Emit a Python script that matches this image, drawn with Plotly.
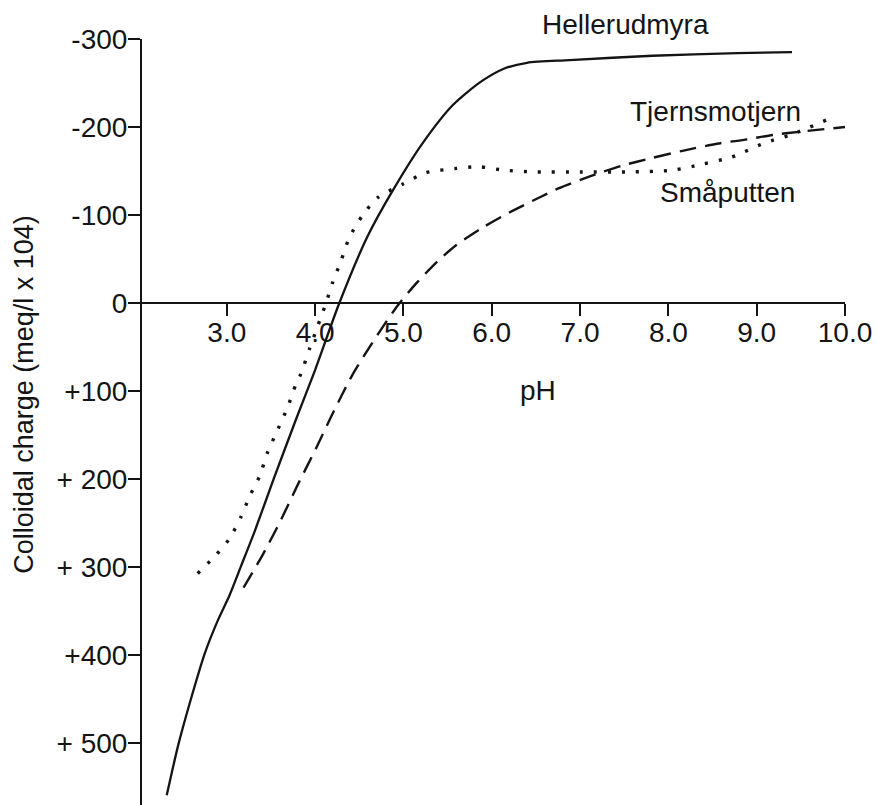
import plotly.graph_objects as go

# ---- data ----
hell_ph = [2.32, 2.45, 2.59, 2.75, 2.90, 3.03, 3.16, 3.32, 3.53, 3.78, 4.00, 4.27, 4.59, 4.88, 5.22, 5.56, 5.87, 6.13, 6.40, 6.88, 7.82, 8.78, 9.40]
hell_q  = [559, 502, 451, 398, 360, 332, 299, 258, 200, 133, 76, 1, -75, -128, -182, -225, -251, -266, -273, -276, -281, -284, -285]

smap_ph = [2.67, 2.84, 3.02, 3.16, 3.26, 3.37, 3.46, 3.58, 3.69, 3.78, 3.84, 3.94, 4.03, 4.12, 4.20, 4.29, 4.39, 4.54, 4.71, 4.99, 5.25, 5.60, 5.85, 6.14, 6.50, 7.00, 7.55, 8.05, 8.39, 8.72, 9.09, 9.41, 9.81]
smap_q  = [307, 290, 269, 243, 219, 197, 170, 143, 118, 93, 80, 51, 26, 1, -24, -47, -75, -100, -120, -135, -148, -153, -155, -151, -149, -149, -149, -151, -158, -166, -182, -192, -209]

tjer_ph = [3.19, 3.40, 3.60, 3.80, 4.01, 4.21, 4.42, 4.68, 4.94, 5.15, 5.38, 5.60, 5.90, 6.20, 6.54, 6.77, 7.11, 7.47, 7.82, 8.16, 8.55, 8.89, 9.18, 9.52, 10.0]
tjer_q  = [323, 287, 249, 207, 165, 123, 82, 40, 2, -23, -47, -66, -86, -103, -120, -131, -144, -156, -165, -173, -181, -186, -191, -195, -200]

x_ticks = [3.0, 4.0, 5.0, 6.0, 7.0, 8.0, 9.0, 10.0]
x_ticklabels = ["3.0", "4.0", "5.0", "6.0", "7.0", "8.0", "9.0", "10.0"]
y_ticks = [-300, -200, -100, 0, 100, 200, 300, 400, 500]
y_ticklabels = ["-300", "-200", "-100", "0", "+100", "+ 200", "+ 300", "+400", "+ 500"]

labels = ["Hellerudmyra", "Tjernsmotjern", "Småputten"]
label_ph = [7.52, 8.53, 8.67]
label_q = [-317, -218, -126]

x_range = [2.04, 10.0]
y_range = [570, -300]

INK = "#141414"
FONT = "Liberation Sans, Arial, sans-serif"


def q_to_paper(q):
    return (y_range[0] - q) / (y_range[0] - y_range[1])


fig = go.Figure()
fig.add_trace(go.Scatter(x=hell_ph, y=hell_q, mode="lines", name=labels[0],
                         line=dict(color=INK, width=2.3, shape="spline", smoothing=0.7)))
fig.add_trace(go.Scatter(x=smap_ph, y=smap_q, mode="lines", name=labels[2],
                         line=dict(color=INK, width=3.4, dash="3px,11px", shape="spline", smoothing=0.7)))
fig.add_trace(go.Scatter(x=tjer_ph, y=tjer_q, mode="lines", name=labels[1],
                         line=dict(color=INK, width=2.4, dash="17px,9px", shape="spline", smoothing=0.7)))

for t, xv, yv in zip(labels, label_ph, label_q):
    fig.add_annotation(x=xv, xref="x", y=q_to_paper(yv), yref="paper", text=t, showarrow=False,
                       xanchor="center", yanchor="middle",
                       font=dict(family=FONT, size=28, color=INK))

fig.add_annotation(x=6.52, y=99, text="pH", showarrow=False, xanchor="center", yanchor="middle",
                   font=dict(family=FONT, size=28, color=INK))

fig.add_annotation(xref="paper", yref="paper", x=-0.168, y=0.5366, text="Colloidal charge (meq/l x 104)",
                   textangle=-90, showarrow=False, xanchor="center", yanchor="middle",
                   font=dict(family=FONT, size=27, color=INK))

zero_pos = q_to_paper(0)

fig.update_layout(
    width=877, height=805,
    margin=dict(l=142, r=32, t=39, b=0),
    paper_bgcolor="white", plot_bgcolor="white",
    showlegend=False,
    xaxis=dict(range=x_range, showgrid=False, zeroline=False, showline=True, linecolor=INK, linewidth=2,
               ticks="outside", ticklen=12, tickwidth=2, tickcolor=INK,
               tickvals=x_ticks, ticktext=x_ticklabels, ticklabelstandoff=-8,
               tickfont=dict(family=FONT, size=28, color=INK),
               anchor="free", position=zero_pos),
    yaxis=dict(range=y_range, showgrid=False, zeroline=False, showline=True, linecolor=INK, linewidth=2,
               ticks="outside", ticklen=12, tickwidth=2, tickcolor=INK,
               tickvals=y_ticks, ticktext=y_ticklabels, ticklabelstandoff=-5,
               tickfont=dict(family=FONT, size=28, color=INK)),
)

fig.write_html("out.html",
               config={"displayModeBar": False},
               post_script="document.body.style.margin='0';document.body.style.overflow='hidden';")
